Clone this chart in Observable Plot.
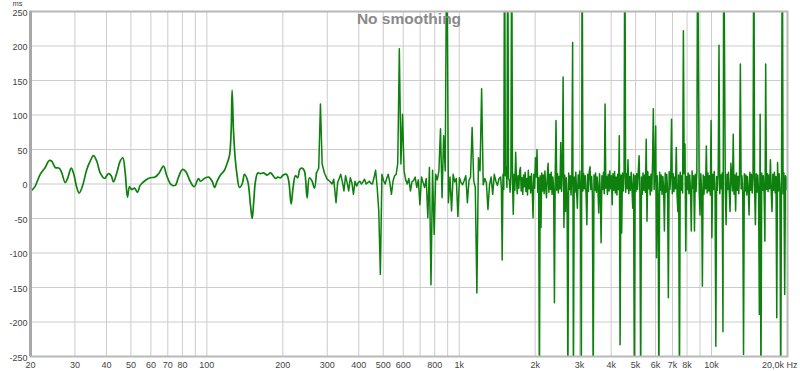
<!DOCTYPE html>
<html><head><meta charset="utf-8">
<script src="https://cdn.jsdelivr.net/npm/d3@7"></script>
<script src="https://cdn.jsdelivr.net/npm/@observablehq/plot@0.6"></script>
<style>body{margin:0;background:#fff} #chart{width:800px;height:371px}</style>
</head><body><div id="chart"></div>
<script>
// Low-frequency (smooth) part of the group delay
const lowHz = [20.0,20.24,20.88,21.85,22.87,23.72,24.29,25.06,25.99,26.61,27.45,28.11,28.99,29.60,30.51,31.19,32.14,33.43,34.48,35.53,36.62,37.77,39.29,40.75,41.77,42.65,43.95,45.34,46.43,47.46,48.46,49.35,50.40,51.66,53.08,54.41,56.95,59.60,62.39,64.71,67.30,69.35,72.20,74.89,77.18,80.04,82.49,85.87,89.06,92.62,94.32,98.71,101.7,104.95,107.17,109.84,113.2,117.4,120.3,122.9,124.8,125.9,127.5,129.8,131.8,134.6,138.0,140.9,145.2,148.8,151.2,153.4,155.8,159.1,163.1,168.0,173.3,178.7,183.1,187.0,191.0,195.7,200.6,206.7,211.1,215.7,219.7,224.3,229.1,233.3,238.5,243.5,249.6,254.9,261.3,266.8,271.7,277.5,281.9,286.3,292.3,299.6,306.8,313.6,318.2];
const lowMs = [-10,-9,-3,14,24,34,33,24,23,16,2,9,23,16,-5,-13,-3,21,33,41,33,16,8,15,12,3,16,33,38,16,-19,-4,-8,-6,-12,-2,5,9,10,16,26,12,-1,-2,10,21,18,4,-4,8,4,9,10,4,-5,4,13,20,30,41,77,136,77,33,12,-5,0,14,4,-30,-50,-25,4,16,15,16,13,16,12,8,10,9,13,14,4,-29,-5,12,9,21,23,19,-20,9,4,-6,16,23,116,29,16,7,4,0,7];

// Noisy part A: measurement grid of 48 points per octave starting at 325 Hz
const gridAStartHz = 325;
const gridAPointsPerOctave = 48;
const gridAMs = [
-27,2,8,14,3,-10,12,2,-10,9,
2,-15,4,-3,2,4,0,3,7,0,
2,4,1,0,9,20,-5,-39,-131,14,
5,0,8,14,2,-15,4,12,14,30,
196,29,101,19,6,0,8,-10,3,5,
10,-5,6,-30,10,2,-5,8,-49,24,
-146,20,-73,14,6,19,80,-20,70,19,
400,-27,10,-39,14,3,8,-47,9,2,
-1,5,12,-27,5,10,82,5,-5,-158,
38,19,138,-1,8,2,-37,-1,10,-15,
14,4,-2,8];

// Noisy part B: finer grid of 96 points per octave starting at 1459 Hz
const gridBStartHz = 1459.2;
const gridBPointsPerOctave = 96;
const gridBMs = [
10,-6,-110,14,-8,400,12,24,-5,400,
8,5,-12,16,400,6,-44,14,-9,46,
8,-14,12,-6,18,24,-10,9,-15,13,
-4,17,-11,8,-16,20,-7,11,-13,15,
-9,-49,14,-6,38,10,50,-12,9,-300,
12,-63,16,-10,13,-14,19,-5,-20,11,
30,-12,14,-8,17,-15,10,-6,-172,12,
92,-9,15,-13,11,-7,60,-11,18,155,
-63,13,-40,9,-14,-300,16,-8,12,-16,
14,205,-300,10,-12,17,-9,-35,13,-6,
19,-14,-300,400,-10,15,-7,12,-15,-59,
14,-11,18,25,-8,11,-16,-300,13,-9,
16,-12,10,-7,-42,15,-13,-85,12,-8,
17,-14,116,-6,11,-15,14,-10,19,-7,
12,-30,15,-9,18,-13,10,-16,14,-8,
70,-233,13,-71,16,-10,12,400,-12,15,
-7,35,-14,11,-9,17,-6,-35,14,-300,
12,-11,15,-8,19,41,-13,-300,10,-15,
16,-9,13,-12,65,-54,18,-7,11,-16,
14,-10,30,109,-8,15,84,-107,12,-14,
-300,17,-9,13,-15,11,-6,-68,16,-12,
14,-10,-165,18,-8,12,94,-14,15,-11,
10,-7,53,-16,-40,13,-300,17,-9,12,
-13,222,15,58,-97,11,-8,16,-14,13,
-10,-68,19,-6,12,-68,14,-11,17,400,
176,-12,-45,15,-9,-148,13,-15,11,-7,
55,-13,16,-10,12,-16,92,-78,14,-8,
18,-12,-235,11,-9,15,201,-14,13,-7,
16,-214,400,186,-11,-59,14,-8,17,-13,
-40,30,12,-10,72,-15,13,-39,16,-9,
11,-14,18,174,-7,12,-12,-247,15,-10,
13,-16,11,-8,-45,17,-9,14,-13,10,
400,-6,-59,15,-12,13,-10,-189,101,-300,
16,-9,12,-14,-83,174,-8,15,-11,13,
-7,35,-12,-40,14,-9,17,-13,11,-194,
31,-10,15,-8,-300,12,400,-14,16,-160,
12,-8,10];

const xGridHz = [20,30,40,50,60,70,80,90,100,200,300,400,500,600,700,800,900,1000,2000,3000,4000,5000,6000,7000,8000,9000,10000,20000];
const xTickHz = [20,30,40,50,60,70,80,100,200,300,400,500,600,800,1000,2000,3000,4000,5000,6000,7000,8000,10000];
const xTickLabels = ["20","30","40","50","60","70","80","100","200","300","400","500","600","800","1k","2k","3k","4k","5k","6k","7k","8k","10k"];
const lastTickHz = 20000;
const lastTickLabel = "20,0k Hz";
const yTicks = [-250,-200,-150,-100,-50,0,50,100,150,200,250];
const title = "No smoothing";
const yUnit = "ms";

const lowData = lowHz.map((hz, i) => ({hz, ms: lowMs[i]}));
const gridAData = gridAMs.map((ms, i) => ({hz: gridAStartHz * Math.pow(2, i / gridAPointsPerOctave), ms}));
const gridBData = gridBMs.map((ms, i) => ({hz: gridBStartHz * Math.pow(2, i / gridBPointsPerOctave), ms}));
const smoothPart = lowData.filter(d => d.hz <= 272);
const noisyPart = lowData.filter(d => d.hz >= 271).concat(gridAData, gridBData);
const tickData = xTickHz.map((hz, i) => ({hz, label: xTickLabels[i]}));

const green = "#0d800d";
const gridColor = "#cbcbcb";
const labelColor = "#444";

const chart = Plot.plot({
  width: 800,
  height: 371,
  marginLeft: 30,
  marginRight: 13,
  marginTop: 11,
  marginBottom: 15,
  x: {type: "log", domain: [20, 20000], axis: null},
  y: {domain: [-250, 250]},
  style: {fontFamily: "'Liberation Sans', Arial, sans-serif", fontSize: "9px", background: "#fff", color: labelColor},
  marks: [
    Plot.gridX(xGridHz, {stroke: gridColor, strokeOpacity: 1}),
    Plot.gridY(yTicks, {stroke: gridColor, strokeOpacity: 1}),
    Plot.line(smoothPart, {x: "hz", y: "ms", curve: "catmull-rom", stroke: green, strokeWidth: 1.7, clip: true}),
    Plot.line(noisyPart, {x: "hz", y: "ms", stroke: green, strokeWidth: 1.5, clip: true}),
    Plot.frame({stroke: "#b8b8b8", strokeWidth: 2}),
    Plot.ruleX([20], {stroke: "#a8a8a8", strokeWidth: 3}),
    Plot.axisY(yTicks, {tickSize: 0, tickPadding: 3, label: null, tickFormat: d => String(d), fill: labelColor, dy: 1.5}),
    Plot.text([yUnit], {frameAnchor: "top-left", dx: -13, dy: -8, textAnchor: "middle", lineAnchor: "middle", fontSize: 7.5, fill: labelColor}),
    Plot.text(tickData, {x: "hz", text: "label", frameAnchor: "bottom", dy: 9, lineAnchor: "middle", fill: labelColor}),
    Plot.text([lastTickLabel], {x: () => lastTickHz, frameAnchor: "bottom", dy: 9, lineAnchor: "middle", textAnchor: "end", dx: 10, fill: labelColor}),
    Plot.text([title], {frameAnchor: "top", dy: 8, lineAnchor: "middle", fontWeight: "bold", fontSize: 15.5, fill: "#8a8a8a"})
  ]
});
document.getElementById("chart").appendChild(chart);
</script>
</body></html>
